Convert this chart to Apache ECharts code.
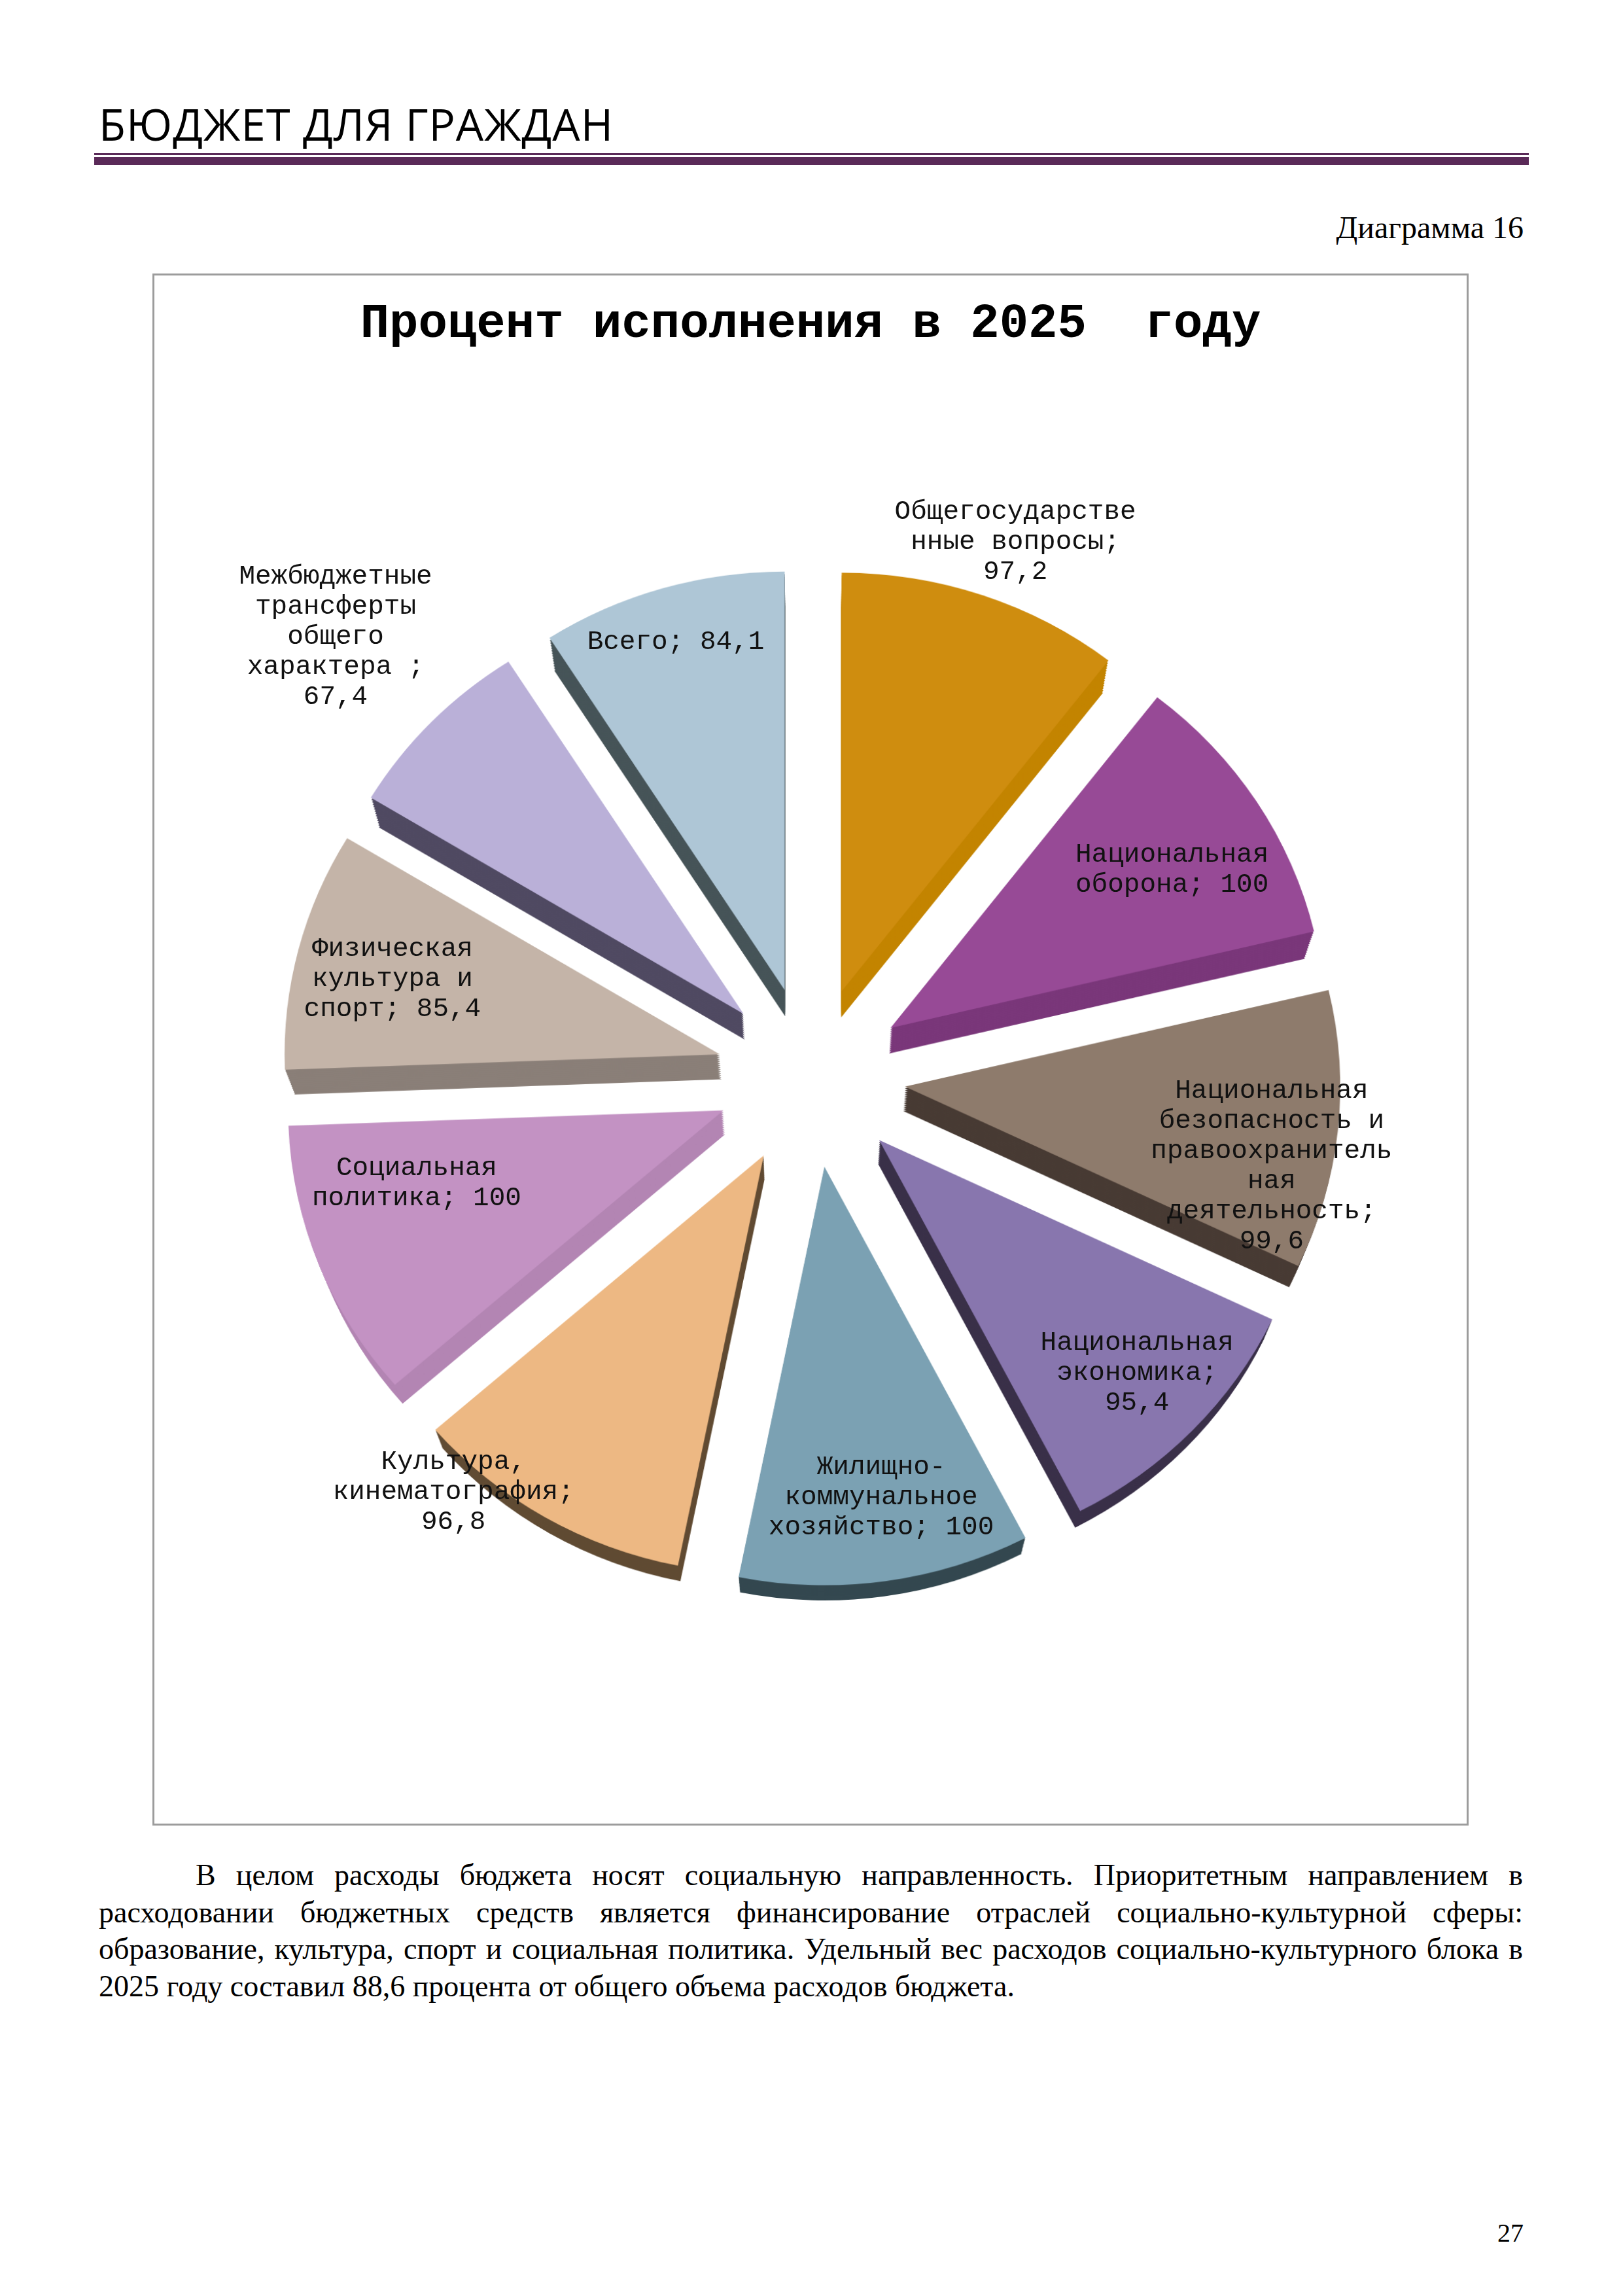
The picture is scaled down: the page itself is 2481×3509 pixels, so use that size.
<!DOCTYPE html>
<html>
<head>
<meta charset="utf-8">
<title>Процент исполнения в 2025 году</title>
<script src="https://cdn.jsdelivr.net/npm/echarts@6/dist/echarts.min.js"></script>
<style>
  html, body { margin: 0; padding: 0; background: #fff; }
  #page { position: relative; width: 2481px; height: 3509px; overflow: hidden; background: #fff; }
  #head {
    position: absolute; left: 151px; top: 156px;
    font-family: "Open Sans", sans-serif; font-size: 67px; line-height: 67px;
    letter-spacing: 1px; color: #000; white-space: nowrap;
  }
  .rule { position: absolute; left: 144px; width: 2193px; background: #5a2a58; }
  .thin { top: 234px; height: 3px; }
  .thick { top: 240px; height: 12px; }
  #caption {
    position: absolute; right: 152px; top: 324px;
    font-family: "Liberation Serif", serif; font-size: 48px; line-height: 48px;
    color: #000; white-space: nowrap;
  }
  #box {
    position: absolute; left: 233px; top: 418px; width: 2012px; height: 2372px;
    box-sizing: border-box; border: 3px solid #9c9c9c; background: #fff; overflow: hidden;
  }
  #pie, #chart { position: absolute; left: 0; top: 0; width: 2006px; height: 2366px; }
  #text {
    position: absolute; left: 151px; top: 2838px; width: 2177px;
    font-family: "Liberation Serif", serif; font-size: 46px; line-height: 56.5px; color: #000;
  }
  #text span { display: block; white-space: nowrap; text-align: justify; text-align-last: justify; }
  #text span.first { text-indent: 148px; }
  #text span.last { text-align: left; text-align-last: left; }
  #pagenum {
    position: absolute; right: 152px; top: 3393px;
    font-family: "Liberation Serif", serif; font-size: 40px; line-height: 40px; color: #000;
  }
</style>
</head>
<body>
<div id="page">
  <div id="head">БЮДЖЕТ ДЛЯ ГРАЖДАН</div>
  <div class="rule thin"></div>
  <div class="rule thick"></div>
  <div id="caption">Диаграмма 16</div>
  <div id="box">
    <div id="pie"></div>
    <div id="chart"></div>
  </div>
  <div id="text">
    <span class="first">В целом расходы бюджета носят социальную направленность. Приоритетным направлением в</span>
    <span>расходовании бюджетных средств является финансирование отраслей социально-культурной сферы:</span>
    <span>образование, культура, спорт и социальная политика. Удельный вес расходов социально-культурного блока в</span>
    <span class="last">2025 году составил 88,6 процента от общего объема расходов бюджета.</span>
  </div>
  <div id="pagenum">27</div>
</div>
<script>
// категории (с переносами, как в подписях на диаграмме)
var categories = [
  'Общегосударстве\nнные вопросы',
  'Национальная\nоборона',
  'Национальная\nбезопасность и\nправоохранитель\nная\nдеятельность',
  'Национальная\nэкономика',
  'Жилищно-\nкоммунальное\nхозяйство',
  'Культура,\nкинематография',
  'Социальная\nполитика',
  'Физическая\nкультура и\nспорт',
  'Межбюджетные\nтрансферты\nобщего\nхарактера ',
  'Всего'
];
// процент исполнения
var values = [97.2, 100, 99.6, 95.4, 100, 96.8, 100, 85.4, 67.4, 84.1];
// значение с новой строки в подписи
var labelBreak = [true, false, true, true, false, true, false, false, true, false];

var topColors = ['#cf8d0f', '#974a96', '#8e7b6c', '#8876ae', '#7ba1b3',
                 '#edb883', '#c392c3', '#c4b4a8', '#bab0d8', '#aec6d6'];
var sideColors = ['#c38400', '#7a377a', '#483b34', '#3a3049', '#344850',
                  '#604b33', '#b385b3', '#8a7f78', '#504a62', '#465458'];
// где стоит подпись: доля радиуса от вершины и поворот от середины сектора (град.)
var labelReach = [1.138, 0.768, 0.893, 0.825, 0.791, 1.079, 0.750, 0.801, 1.317, 0.861];
var labelTurn = [2.0, 2.9, 4.9, -1.7, -1.4, 10.6, 6.5, -1.3, -1.4, -0.95];

var CX = 1004, CY = 1225, R = 646, OFFSET = 140;
// 3D: нижняя грань сдвинута вниз и чуть меньше верхней (перспектива)
var DEPTH = 38, SHRINK = 12, STEPS = 13;
// лёгкое растяжение круга, как у объёмной диаграммы Excel
var SX = 1.03, SY = 0.99;

var total = values.reduce(function (a, b) { return a + b; }, 0);
var starts = [];
values.reduce(function (acc, v, i) { starts[i] = acc; return acc + v; }, 0);

function fmt(v) { return String(v).replace('.', ','); }

function pieData(colors) {
  return categories.map(function (name, i) {
    return { name: name, value: values[i], selected: true, itemStyle: { color: colors[i] } };
  });
}

function pieSeries(t, colors, z) {
  return {
    type: 'pie',
    center: [CX, CY + DEPTH * t],
    radius: R - SHRINK * t,
    startAngle: 90,
    clockwise: true,
    selectedMode: 'multiple',
    selectedOffset: OFFSET * (1 - SHRINK * t / R),
    avoidLabelOverlap: false,
    animation: false,
    silent: true,
    z: z,
    label: { show: false },
    labelLine: { show: false },
    select: { itemStyle: { borderWidth: 0 } },
    emphasis: { disabled: true },
    data: pieData(colors)
  };
}

var pieSeriesList = [];
for (var s = STEPS; s > 0; s--) {
  pieSeriesList.push(pieSeries(s / STEPS, sideColors, 1));
}
pieSeriesList.push(pieSeries(0, topColors, 2));

var pieEl = document.getElementById('pie');
pieEl.style.transformOrigin = CX + 'px ' + CY + 'px';
pieEl.style.transform = 'scale(' + SX + ',' + SY + ')';

var pieChart = echarts.init(pieEl, null, { renderer: 'canvas' });
pieChart.setOption({ animation: false, series: pieSeriesList });

// заголовок и подписи секторов
var chart = echarts.init(document.getElementById('chart'), null, { renderer: 'canvas' });
chart.setOption({
  backgroundColor: 'transparent',
  animation: false,
  title: {
    text: 'Процент исполнения в 2025  году',
    left: 'center',
    top: 33,
    textStyle: { fontFamily: 'Liberation Mono', fontWeight: 'bold', fontSize: 74, color: '#000' }
  },
  series: [{
    type: 'custom',
    coordinateSystem: 'none',
    silent: true,
    animation: false,
    data: values.map(function (v, i) { return [i, v]; }),
    renderItem: function (params, api) {
      var i = api.value(0);
      var v = api.value(1);
      var ang = (starts[i] + v / 2) / total * 2 * Math.PI + labelTurn[i] * Math.PI / 180;
      var dist = OFFSET + labelReach[i] * R;
      return {
        type: 'text',
        x: CX + Math.sin(ang) * dist,
        y: CY - Math.cos(ang) * dist,
        style: {
          text: categories[i] + ';' + (labelBreak[i] ? '\n' : ' ') + fmt(v),
          fontFamily: 'Liberation Mono',
          fontSize: 41,
          lineHeight: 46,
          fill: '#111',
          align: 'center',
          verticalAlign: 'middle'
        }
      };
    }
  }]
});
</script>
</body>
</html>
